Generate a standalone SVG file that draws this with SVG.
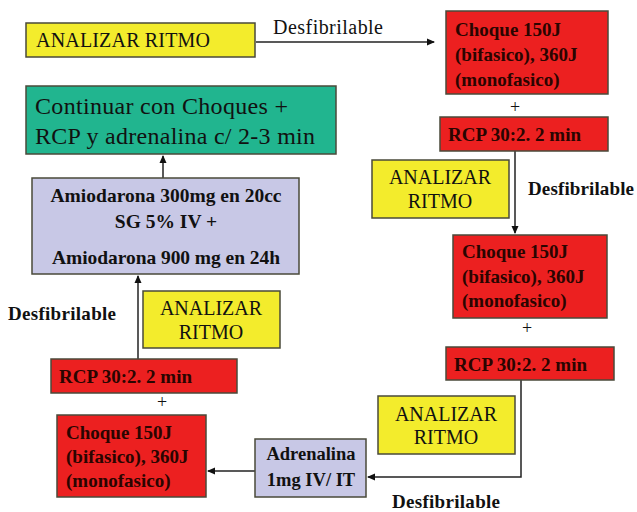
<svg xmlns="http://www.w3.org/2000/svg" width="637" height="512" viewBox="0 0 637 512">
<defs>
<marker id="ah" markerWidth="8" markerHeight="8" refX="7" refY="4" orient="auto" markerUnits="userSpaceOnUse">
<path d="M0,0.5 L8,4 L0,7.5 Z" fill="#111"/>
</marker>
<style>
.box{stroke:#4a4a3a;stroke-width:1.5}
.y{fill:#f3ec2c}
.r{fill:#ec2020}
.g{fill:#21b58f}
.l{fill:#c8c8e6}
.t{fill:#111;font-family:"Liberation Serif",serif}
.b{font-weight:bold}
.rt{fill:#2a0500}
.c{text-anchor:middle}
.ln{fill:none;stroke:#222;stroke-width:1.5}
</style>
</defs>
<rect width="637" height="512" fill="#fff"/>
<g id="connectors">
<line class="ln" x1="256" y1="42" x2="434" y2="42" marker-end="url(#ah)"/>
<line class="ln" x1="515" y1="151" x2="515" y2="233" marker-end="url(#ah)"/>
<polyline class="ln" points="521,380 521,477 368,477" marker-end="url(#ah)"/>
<line class="ln" x1="255" y1="471" x2="208" y2="471" marker-end="url(#ah)"/>
<line class="ln" x1="138" y1="359" x2="138" y2="276" marker-end="url(#ah)"/>
<line class="ln" x1="163" y1="178" x2="163" y2="156" marker-end="url(#ah)"/>
<text class="t" x="273" y="34" font-size="20" textLength="110">Desfibrilable</text>
<text class="t b" x="528" y="195" font-size="19" textLength="106">Desfibrilable</text>
<text class="t b" x="8" y="320" font-size="19" textLength="108">Desfibrilable</text>
<text class="t b" x="392" y="508" font-size="19" textLength="108">Desfibrilable</text>
<text class="t" x="515" y="113" font-size="18" text-anchor="middle">+</text>
<text class="t" x="527" y="334" font-size="18" text-anchor="middle">+</text>
<text class="t" x="162" y="408" font-size="18" text-anchor="middle">+</text>
</g>
<g id="analizar1">
<rect class="box y" x="26" y="23" width="229" height="34"/>
<text class="t" x="36" y="47" font-size="20" textLength="174">ANALIZAR RITMO</text>
</g>
<g id="choque1">
<rect class="box r" x="446" y="11" width="162" height="83"/>
<text class="t b rt" x="455" y="36" font-size="19">Choque 150J</text>
<text class="t b rt" x="455" y="61" font-size="19">(bifasico), 360J</text>
<text class="t b rt" x="455" y="86" font-size="19">(monofasico)</text>
</g>
<g id="rcp1">
<rect class="box r" x="440" y="117" width="168" height="34"/>
<text class="t b rt" x="448" y="141" font-size="19">RCP 30:2. 2 min</text>
</g>
<g id="continuar">
<rect class="box g" x="26" y="86" width="310" height="68"/>
<text class="t" x="35" y="114" font-size="24" textLength="253">Continuar con Choques +</text>
<text class="t" x="35" y="144" font-size="24" textLength="280">RCP y adrenalina c/ 2-3 min</text>
</g>
<g id="amiodarona">
<rect class="box l" x="32" y="178" width="267" height="96"/>
<text class="t b c" x="166" y="202" font-size="19.5" textLength="231">Amiodarona 300mg en 20cc</text>
<text class="t b c" x="166" y="228" font-size="19.5">SG 5% IV +</text>
<text class="t b c" x="166" y="264" font-size="19.5" textLength="228">Amiodarona 900 mg en 24h</text>
</g>
<g id="analizar2">
<rect class="box y" x="372" y="160" width="137" height="58"/>
<text class="t c" x="440" y="184" font-size="20">ANALIZAR</text>
<text class="t c" x="440" y="208" font-size="20">RITMO</text>
</g>
<g id="choque2">
<rect class="box r" x="453" y="235" width="154" height="83"/>
<text class="t b rt" x="462" y="258" font-size="19">Choque 150J</text>
<text class="t b rt" x="462" y="283" font-size="19">(bifasico), 360J</text>
<text class="t b rt" x="462" y="307" font-size="19">(monofasico)</text>
</g>
<g id="analizar3">
<rect class="box y" x="143" y="291" width="137" height="57"/>
<text class="t c" x="211" y="315" font-size="20">ANALIZAR</text>
<text class="t c" x="211" y="339" font-size="20">RITMO</text>
</g>
<g id="rcp2">
<rect class="box r" x="446" y="347" width="168" height="33"/>
<text class="t b rt" x="454" y="371" font-size="19">RCP 30:2. 2 min</text>
</g>
<g id="rcp3">
<rect class="box r" x="51" y="359" width="186" height="34"/>
<text class="t b rt" x="59" y="383" font-size="19">RCP 30:2. 2 min</text>
</g>
<g id="analizar4">
<rect class="box y" x="378" y="396" width="137" height="58"/>
<text class="t c" x="446" y="421" font-size="20">ANALIZAR</text>
<text class="t c" x="446" y="444" font-size="20">RITMO</text>
</g>
<g id="choque3">
<rect class="box r" x="57" y="415" width="149" height="82"/>
<text class="t b rt" x="66" y="439" font-size="19">Choque 150J</text>
<text class="t b rt" x="66" y="463" font-size="19">(bifasico), 360J</text>
<text class="t b rt" x="66" y="487" font-size="19">(monofasico)</text>
</g>
<g id="adrenalina">
<rect class="box l" x="255" y="439" width="111" height="58"/>
<text class="t b c" x="311" y="460" font-size="18.5">Adrenalina</text>
<text class="t b c" x="311" y="486" font-size="18.5">1mg IV/ IT</text>
</g>
</svg>
